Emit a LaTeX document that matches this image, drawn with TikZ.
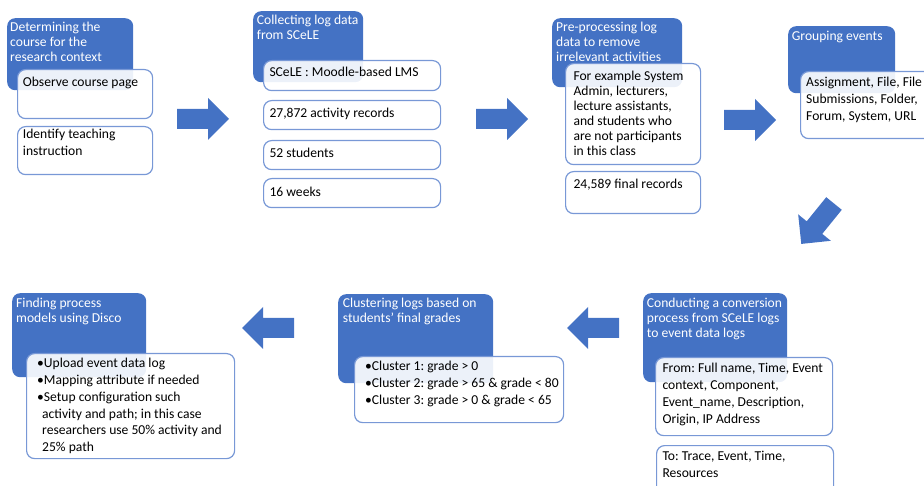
\documentclass[tikz,border=0pt]{standalone}
\usepackage{fontspec}
\setmainfont{Carlito}
\frenchspacing
\definecolor{sablue}{RGB}{68,114,196}
\definecolor{cardline}{RGB}{120,152,214}
\tikzset{
  x=1pt, y=-1pt,
  headbox/.style={fill=sablue, draw=none, rounded corners=8pt, inner sep=0pt, anchor=north west},
  card/.style={fill=white, fill opacity=0.9, draw=cardline, line width=1.2pt, rounded corners=8pt, inner sep=0pt, anchor=north west},
  headtext/.style={text=white, font=\fontsize{13.6}{15}\selectfont\frenchspacing, align=left, inner sep=0pt, anchor=north west, execute at begin node=\strut},
  bodytext/.style={text=black, font=\fontsize{13.6}{16.7}\selectfont\frenchspacing, align=left, inner sep=0pt, anchor=north west, execute at begin node=\strut},
  blockarrow/.pic={\fill[sablue] (0,-10) -- (31,-10) -- (31,-21) -- (52,0) -- (31,21) -- (31,10) -- (0,10) -- cycle;}
}
\begin{document}
\begin{tikzpicture}
\clip (0,0) rectangle (924,486);

% stage headers
\node[headbox, minimum width=126pt, minimum height=72pt] (b1) at (7,18) {};
\node[headbox, minimum width=110pt, minimum height=71pt] (b2) at (253,11) {};
\node[headbox, minimum width=130pt, minimum height=69pt] (b3) at (552,18) {};
\node[headbox, minimum width=107pt, minimum height=67pt] (b4) at (788,26) {};
\node[headbox, minimum width=144pt, minimum height=89pt] (b5) at (643,293) {};
\node[headbox, minimum width=155pt, minimum height=89pt] (b6) at (338,294) {};
\node[headbox, minimum width=134pt, minimum height=84pt] (b7) at (12,293) {};

% detail cards
\node[card, minimum width=135pt, minimum height=49pt] (w1a) at (17,69) {};
\node[card, minimum width=135pt, minimum height=48pt] (w1b) at (17,126) {};
\node[card, minimum width=177pt, minimum height=30pt] (w2a) at (263,60) {};
\node[card, minimum width=177pt, minimum height=29pt] (w2b) at (263,100) {};
\node[card, minimum width=177pt, minimum height=29pt] (w2c) at (263,140) {};
\node[card, minimum width=177pt, minimum height=29pt] (w2d) at (263,178) {};
\node[card, minimum width=135pt, minimum height=101pt] (w3a) at (565,63) {};
\node[card, minimum width=135pt, minimum height=42pt] (w3b) at (565,171) {};
\node[card, minimum width=150pt, minimum height=67pt] (w4) at (800,71) {};
\node[card, minimum width=177pt, minimum height=78pt] (w5a) at (655,357) {};
\node[card, minimum width=177pt, minimum height=60pt] (w5b) at (656,445) {};
\node[card, minimum width=209pt, minimum height=66pt] (w6) at (354,356) {};
\node[card, minimum width=208pt, minimum height=105pt] (w7) at (26,353) {};

% header texts
\node[headtext] (t1) at (10,22) {Determining the\\course for the\\research context};
\node[headtext] (t2) at (256.7,14.5) {Collecting log data\\from SCeLE};
\node[headtext] (t3) at (556,22) {Pre-processing log\\data to remove\\irrelevant activities};
\node[headtext] (t4) at (791.7,29.5) {Grouping events};
\node[headtext] (t5) at (646.7,297.5) {Conducting a conversion\\process from SCeLE logs\\to event data logs};
\node[headtext] (t6) at (342.7,297.5) {Clustering logs based on\\students’ final grades};
\node[headtext] (t7) at (16,297.5) {Finding process\\models using Disco};

% card texts
\node[bodytext] (c1a) at (22.7,74.3) {Observe course page};
\node[bodytext] (c1b) at (22.7,129.3) {Identify teaching\\instruction};
\node[bodytext] (c2a) at (269.3,64.3) {SCeLE : Moodle-based LMS};
\node[bodytext] (c2b) at (269.3,105.8) {27,872 activity records};
\node[bodytext] (c2c) at (269.3,145.8) {52 students};
\node[bodytext] (c2d) at (269.3,184.3) {16 weeks};
\node[bodytext, font=\fontsize{13.6}{15}\selectfont\frenchspacing] (c3a) at (573.3,70.5)
  {For example System\\Admin, lecturers,\\lecture assistants,\\and students who\\are not participants\\in this class};
\node[bodytext] (c3b) at (573.3,176.3) {24,589 final records};
\node[bodytext] (c4) at (806,77.3) {Assignment, File, File\\Submissions, Folder,\\Forum, System, URL};
\node[bodytext] (c5a) at (662.3,363.3)
  {From: Full name, Time, Event\\context, Component,\\Event\_name, Description,\\Origin, IP Address};
\node[bodytext] (c5b) at (662.3,450.8) {To: Trace, Event, Time,\\Resources};
\node[bodytext, font=\fontsize{13.6}{17}\selectfont\frenchspacing] (c6) at (365,360.6)
  {\textbullet Cluster 1: grade > 0\\\textbullet Cluster 2: grade > 65 \& grade < 80\\\textbullet Cluster 3: grade > 0 \& grade < 65};
\node[bodytext] (c7) at (37,358.3)
  {\textbullet Upload event data log\\\textbullet Mapping attribute if needed\\\textbullet Setup configuration such\\\hspace*{5pt}activity and path; in this case\\\hspace*{5pt}researchers use 50\% activity and\\\hspace*{5pt}25\% path};

% block arrows between stages
\pic at (177,119) {blockarrow};
\pic at (476,119) {blockarrow};
\pic at (724,120) {blockarrow};
\pic[rotate=231] at (834,203.5) {blockarrow};
\pic[rotate=180] at (619,328) {blockarrow};
\pic[rotate=180] at (294,328) {blockarrow};
\end{tikzpicture}
\end{document}
